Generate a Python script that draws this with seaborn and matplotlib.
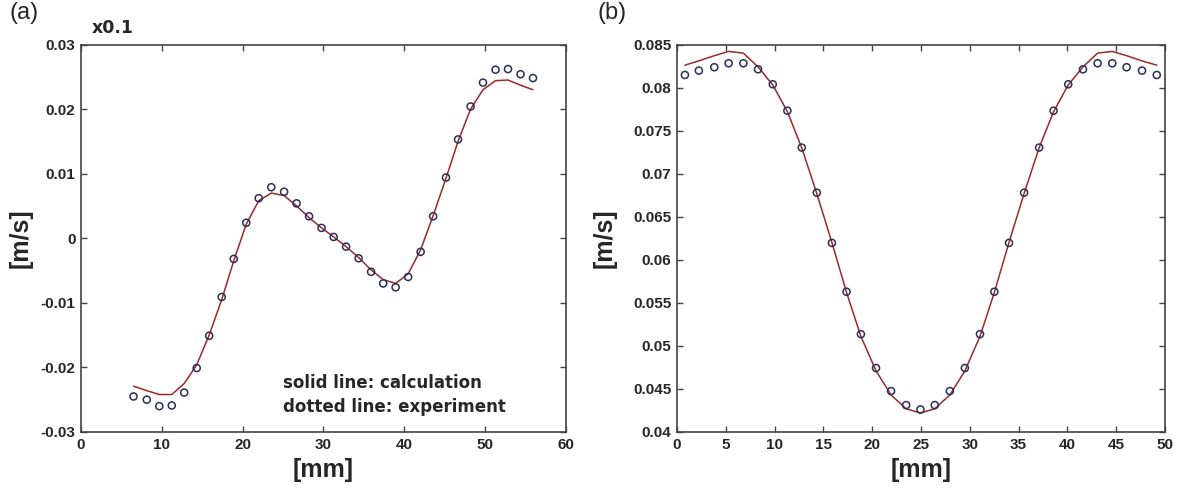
import matplotlib
matplotlib.use("Agg")
import matplotlib.pyplot as plt
import seaborn as sns
import numpy as np
from matplotlib.ticker import FuncFormatter, MultipleLocator

# ---- Panel (a) data ----
a_x = [6.50, 8.14, 9.69, 11.23, 12.77, 14.32, 15.86, 17.41, 18.90, 20.45, 21.99,
       23.54, 25.13, 26.67, 28.22, 29.76, 31.26, 32.80, 34.35, 35.89, 37.39, 38.93,
       40.48, 42.02, 43.57, 45.16, 46.65, 48.20, 49.74, 51.29, 52.83, 54.38, 55.92]
a_exp = [-0.0245, -0.0250, -0.0260, -0.0259, -0.0239, -0.0201, -0.0151, -0.0091,
         -0.0032, 0.0024, 0.0062, 0.0079, 0.0072, 0.0054, 0.0034, 0.0016, 0.0002,
         -0.0013, -0.0031, -0.0052, -0.0070, -0.0076, -0.0060, -0.0021, 0.0034,
         0.0094, 0.0153, 0.0204, 0.0241, 0.0261, 0.0262, 0.0254, 0.0248]
a_calc = [-0.0229, -0.0236, -0.0242, -0.0242, -0.0225, -0.0196, -0.0150, -0.0095,
          -0.0035, 0.0022, 0.0058, 0.0070, 0.0066, 0.0050, 0.0032, 0.0016, 0.0002,
          -0.0013, -0.0030, -0.0049, -0.0064, -0.0070, -0.0055, -0.0018, 0.0035,
          0.0093, 0.0150, 0.0200, 0.0230, 0.0244, 0.0245, 0.0237, 0.0230]

# ---- Panel (b) data ----
b_x = [0.81, 2.24, 3.82, 5.29, 6.80, 8.30, 9.81, 11.31, 12.78, 14.32, 15.87, 17.37,
       18.84, 20.39, 21.93, 23.47, 24.94, 26.41, 27.95, 29.49, 31.04, 32.51, 34.01,
       35.56, 37.10, 38.58, 40.08, 41.59, 43.09, 44.59, 46.06, 47.64, 49.15]
b_exp = [0.08146, 0.08197, 0.08236, 0.08282, 0.08282, 0.08212, 0.08038, 0.07731,
         0.07303, 0.06779, 0.06196, 0.05629, 0.05136, 0.04743, 0.04475, 0.04312,
         0.04261, 0.04312, 0.04475, 0.04743, 0.05136, 0.05629, 0.06196, 0.06779,
         0.07303, 0.07731, 0.08038, 0.08212, 0.08282, 0.08282, 0.08236, 0.08197, 0.08146]
b_calc = [0.0826, 0.0831, 0.0837, 0.0842, 0.0840, 0.0824, 0.0803, 0.0772, 0.0730,
          0.0677, 0.0620, 0.0562, 0.0511, 0.0471, 0.0443, 0.0427, 0.0422, 0.0427,
          0.0443, 0.0471, 0.0511, 0.0562, 0.0620, 0.0677, 0.0730, 0.0772, 0.0803,
          0.0824, 0.0840, 0.0842, 0.0837, 0.0831, 0.0826]

sns.set_style("ticks")
plt.rcParams['font.family'] = ['Liberation Sans', 'DejaVu Sans']

fig = plt.figure(figsize=(11.84, 4.88), dpi=100)
ax_a = fig.add_axes([0.0684, 0.1148, 0.4096, 0.794])
ax_b = fig.add_axes([0.5718, 0.1148, 0.4122, 0.794])

line_color = "#9a2a2a"
mk_color = "#2a2f5a"
fmt = FuncFormatter(lambda v, p: ("%g" % round(v, 6)))

def draw(ax, x, calc, exp, ylab_x):
    sns.lineplot(x=x, y=calc, ax=ax, color=line_color, linewidth=1.1, sort=False)
    sns.scatterplot(x=x, y=exp, ax=ax, marker='o', s=26, facecolors='none',
                    edgecolor=mk_color, linewidth=1.1, zorder=3)
    for s in ax.spines.values():
        s.set_visible(True)
        s.set_color('#444444')
        s.set_linewidth(1.2)
    ax.tick_params(direction='in', top=True, right=True, length=4.5, width=1,
                   color='#444444', labelsize=11, pad=4)
    ax.set_xlabel('[mm]', fontsize=18, fontweight='bold', va='center')
    ax.set_ylabel('[m/s]', fontsize=18, fontweight='bold', va='center')
    ax.xaxis.set_label_coords(0.5, -0.098)
    ax.yaxis.set_label_coords(ylab_x, 0.5)

draw(ax_a, a_x, a_calc, a_exp, -0.124)
ax_a.set_xlim(0, 60)
ax_a.set_ylim(-0.03, 0.03)
ax_a.xaxis.set_major_locator(MultipleLocator(10))
ax_a.yaxis.set_major_locator(MultipleLocator(0.01))
ax_a.xaxis.set_major_formatter(fmt)
ax_a.yaxis.set_major_formatter(fmt)
for lab in ax_a.get_xticklabels() + ax_a.get_yticklabels():
    lab.set_fontweight('bold')
ax_a.text(0.023, 1.02, 'x0.1', transform=ax_a.transAxes, fontsize=12.5,
          fontweight='bold', family='DejaVu Sans', ha='left', va='bottom')
ax_a.text(0.416, 0.095, 'solid line: calculation\ndotted line: experiment',
          transform=ax_a.transAxes, fontsize=12, fontweight='bold',
          family='DejaVu Sans', ha='left', va='center', linespacing=1.45)

draw(ax_b, b_x, b_calc, b_exp, -0.148)
ax_b.set_xlim(0, 50)
ax_b.set_ylim(0.04, 0.085)
ax_b.xaxis.set_major_locator(MultipleLocator(5))
ax_b.yaxis.set_major_locator(MultipleLocator(0.005))
ax_b.xaxis.set_major_formatter(fmt)
ax_b.yaxis.set_major_formatter(fmt)
for lab in ax_b.get_xticklabels() + ax_b.get_yticklabels():
    lab.set_fontweight('bold')

fig.text(0.008, 0.995, '(a)', fontsize=17, ha='left', va='top')
fig.text(0.505, 0.995, '(b)', fontsize=17, ha='left', va='top')

fig.savefig('out.png', dpi=100)
